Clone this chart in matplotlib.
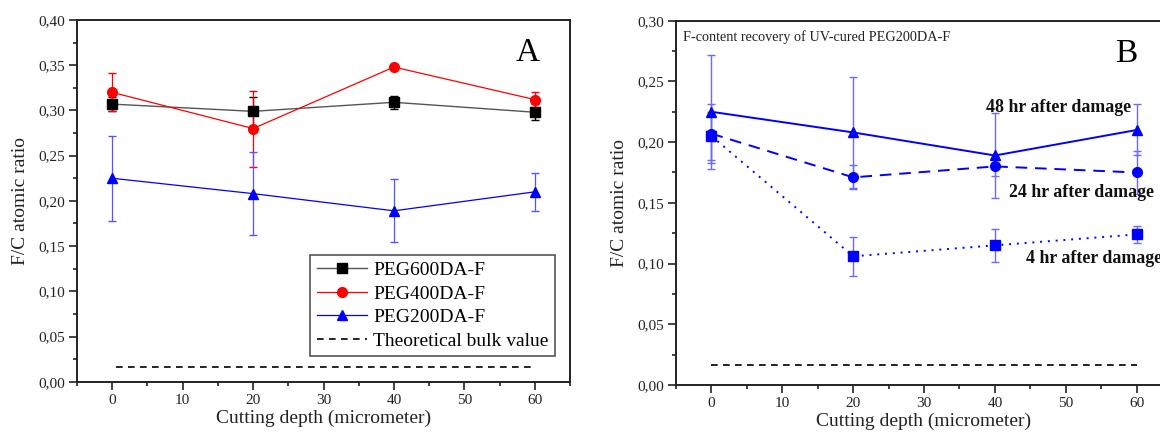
"""
F/C atomic ratio vs cutting depth, two panels (A: PEG variants, B: recovery of PEG200DA-F).
"""

import matplotlib
matplotlib.use("Agg")
import matplotlib.pyplot as plt
from matplotlib.lines import Line2D
from matplotlib.ticker import MultipleLocator, FuncFormatter


# cutting depths in micrometer
depth = [0, 20, 40, 60]

# panel A values
peg600 = [0.307, 0.299, 0.309, 0.298]
peg600_err = [0.008, 0.016, 0.007, 0.009]
peg400 = [0.320, 0.280, 0.348, 0.312]
peg400_err = [0.021, 0.042, 0.002, 0.008]
peg200 = [0.225, 0.208, 0.189, 0.210]
peg200_err = [0.047, 0.046, 0.035, 0.021]

# theoretical bulk value line
bulk_x = [0.5, 60]
bulk_y = [0.0165, 0.0165]

# panel B values
hr48 = [0.225, 0.208, 0.189, 0.210]
hr48_err = [0.047, 0.046, 0.035, 0.021]
hr24 = [0.207, 0.171, 0.180, 0.175]
hr24_err = [0.024, 0.010, 0.008, 0.018]
hr4 = [0.205, 0.106, 0.115, 0.124]
hr4_err = [0.020, 0.016, 0.0135, 0.007]

plt.rcParams["font.family"] = ["Liberation Serif", "DejaVu Serif"]


def comma(v, pos):
    return f"{v:.2f}".replace(".", ",")


def style_axes(ax, ymax, ymajor):
    ax.set_xlim(-5, 65)
    ax.set_ylim(0, ymax)
    ax.xaxis.set_major_locator(MultipleLocator(10))
    ax.xaxis.set_minor_locator(MultipleLocator(5))
    ax.yaxis.set_major_locator(MultipleLocator(ymajor))
    ax.yaxis.set_minor_locator(MultipleLocator(ymajor / 2))
    ax.yaxis.set_major_formatter(FuncFormatter(comma))
    ax.tick_params(which="both", direction="out", labelsize=11, colors="#222222", width=1.2)
    ax.tick_params(which="major", length=5.5, pad=3)
    ax.tick_params(which="minor", length=3)
    for s in ax.spines.values():
        s.set_linewidth(1.4)
        s.set_color("#222222")
    ax.set_xlabel("Cutting depth (micrometer)", fontsize=14, color="#222222", labelpad=2)
    ax.set_ylabel("F/C atomic ratio", fontsize=14, color="#222222", labelpad=6.5)


fig = plt.figure(figsize=(11.6, 4.37), dpi=100)
ax_a = fig.add_axes([0.0664, 0.1265, 0.425, 0.8277])
ax_b = fig.add_axes([0.5828, 0.119, 0.4276, 0.8336])

# panel A
ax_a.errorbar(depth, peg600, yerr=peg600_err, color="#555555", ecolor="black", lw=1,
              elinewidth=1, capsize=3, marker="s", ms=6.5, mfc="black", mec="black", zorder=3)
ax_a.errorbar(depth, peg400, yerr=peg400_err, color="red", ecolor="red", lw=0.9,
              elinewidth=0.9, capsize=3, marker="o", ms=7, mfc="red", mec="red", zorder=3)
ax_a.errorbar(depth, peg200, yerr=peg200_err, color="blue", ecolor="#5555ff", lw=0.9,
              elinewidth=0.9, capsize=3, marker="^", ms=7.5, mfc="blue", mec="blue", zorder=3)
ax_a.plot(bulk_x, bulk_y, color="black", ls=(0, (4, 3.2)), lw=1.2)
style_axes(ax_a, 0.40, 0.05)
ax_a.text(0.915, 0.91, "A", transform=ax_a.transAxes, fontsize=24, ha="center", va="center")

handles = [
    Line2D([], [], color="#555555", lw=1, marker="s", ms=6.5, mfc="black", mec="black"),
    Line2D([], [], color="red", lw=0.9, marker="o", ms=7, mfc="red", mec="red"),
    Line2D([], [], color="blue", lw=0.9, marker="^", ms=7.5, mfc="blue", mec="blue"),
    Line2D([], [], color="black", lw=1.2, ls=(0, (4, 3.2))),
]
labels = ["PEG600DA-F", "PEG400DA-F", "PEG200DA-F", "Theoretical bulk value"]
leg = ax_a.legend(handles, labels, loc="lower right", bbox_to_anchor=(0.97, 0.07), fontsize=14,
                  fancybox=False, edgecolor="#555555", framealpha=1, handlelength=2.6,
                  borderpad=0.35, labelspacing=0.3, handletextpad=0.3, borderaxespad=0)
leg.get_frame().set_linewidth(1.2)

# panel B
ax_b.errorbar(depth, hr48, yerr=hr48_err, color="blue", ecolor="#6a6aff", lw=1.4,
              elinewidth=1, capsize=3, marker="^", ms=7.5, zorder=3)
ax_b.errorbar(depth, hr24, yerr=hr24_err, color="blue", ecolor="#6a6aff", lw=1.4,
              ls=(0, (6, 4)), elinewidth=1, capsize=3, marker="o", ms=7, zorder=3)
ax_b.errorbar(depth, hr4, yerr=hr4_err, color="blue", ecolor="#6a6aff", lw=1.4,
              ls=(0, (1, 3)), elinewidth=1, capsize=3, marker="s", ms=6.5, zorder=3)
ax_b.plot([0, 60], bulk_y, color="black", ls=(0, (4, 3.2)), lw=1.2)
style_axes(ax_b, 0.30, 0.05)

ax_b.text(0.014, 0.955, "F-content recovery of UV-cured PEG200DA-F",
          transform=ax_b.transAxes, fontsize=10.3, va="center", color="#222222")
ax_b.text(0.907, 0.91, "B", transform=ax_b.transAxes, fontsize=24, ha="center", va="center")
ax_b.text(0.772, 0.762, "48 hr after damage", transform=ax_b.transAxes, fontsize=12.9,
          fontweight="bold", ha="center", va="center", color="#111111")
ax_b.text(0.818, 0.528, "24 hr after damage", transform=ax_b.transAxes, fontsize=12.9,
          fontweight="bold", ha="center", va="center", color="#111111")
ax_b.text(0.842, 0.348, "4 hr after damage", transform=ax_b.transAxes, fontsize=12.9,
          fontweight="bold", ha="center", va="center", color="#111111")

fig.savefig("out.png", dpi=100)
